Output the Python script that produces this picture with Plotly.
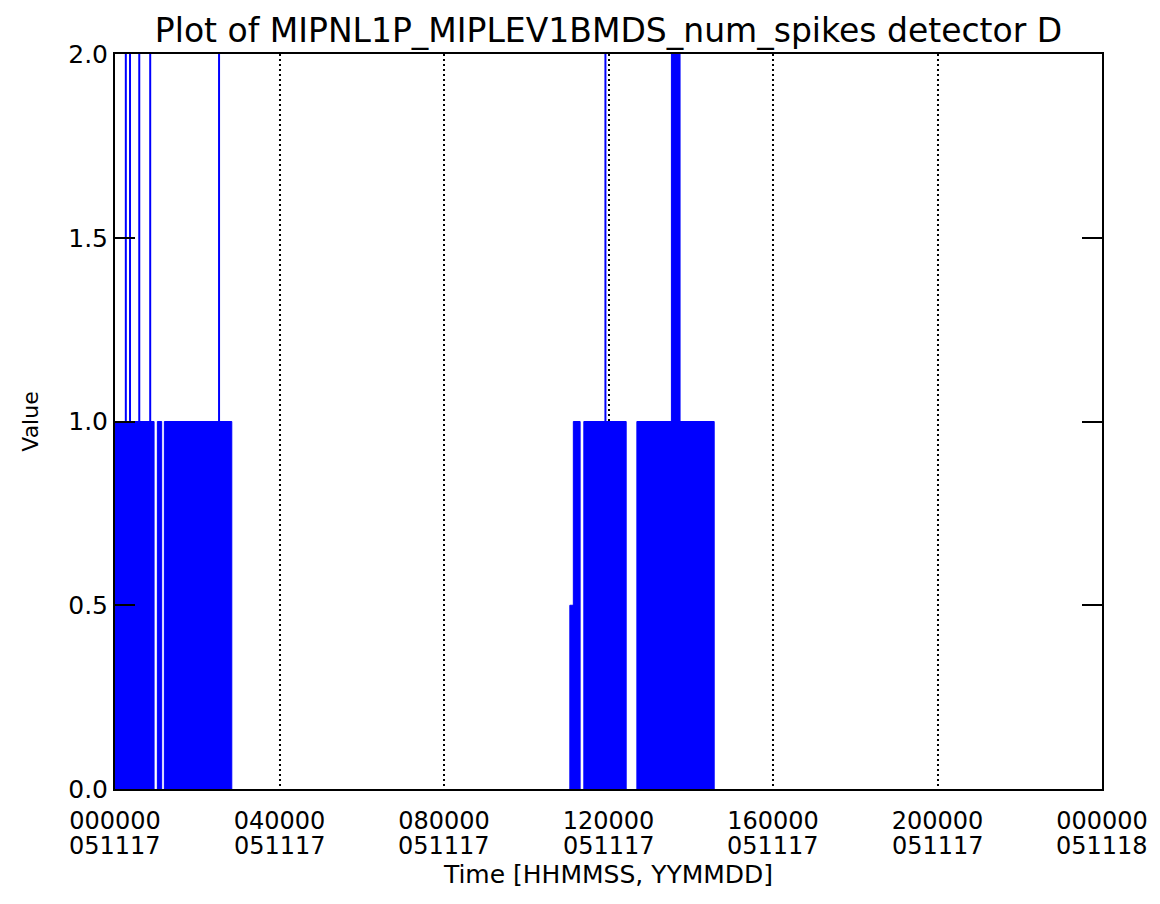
import plotly.graph_objects as go

# ---- data (time in hours since 000000 051117) ----
block_start_h = [0.00, 1.03, 1.20, 11.06, 11.145, 11.40, 12.69, 13.53]
block_end_h = [0.95, 1.135, 2.84, 11.145, 11.31, 12.43, 14.57, 13.74]
block_value = [1.0, 1.0, 1.0, 0.5, 1.0, 1.0, 1.0, 2.0]

spike_time_h = [0.263, 0.365, 0.59, 0.856, 2.53, 11.925]
spike_value = [2.0, 2.0, 2.0, 2.0, 2.0, 2.0]

tick_hours = [0, 4, 8, 12, 16, 20, 24]
tick_hhmmss = ["000000", "040000", "080000", "120000", "160000", "200000", "000000"]
tick_date = ["051117", "051117", "051117", "051117", "051117", "051117", "051118"]

y_ticks = [0.0, 0.5, 1.0, 1.5, 2.0]

BLUE = "#0000ff"
FONT = "DejaVu Sans"

# build block polygons
bx, by = [], []
for s, e, v in zip(block_start_h, block_end_h, block_value):
    bx += [s, s, e, e, s, None]
    by += [0, v, v, 0, 0, None]

sx, sy = [], []
for t, v in zip(spike_time_h, spike_value):
    sx += [t, t, None]
    sy += [0, v, None]

fig = go.Figure()
fig.add_trace(go.Scatter(x=bx, y=by, mode="lines", fill="toself", fillcolor=BLUE,
                         line=dict(color=BLUE, width=1), hoverinfo="skip", showlegend=False))
fig.add_trace(go.Scatter(x=sx, y=sy, mode="lines",
                         line=dict(color=BLUE, width=2), hoverinfo="skip", showlegend=False))

# second line of the x tick labels (date)
for h, d in zip(tick_hours, tick_date):
    fig.add_annotation(x=h, xref="x", y=0, yref="paper", yshift=-57,
                       text=d, showarrow=False, xanchor="center", yanchor="middle",
                       font=dict(family=FONT, size=24, color="black"))

# page body has an 8px default margin -> figure is 8px smaller
fig.update_layout(
    width=1152, height=896,
    margin=dict(l=107, r=58, t=46, b=115),
    paper_bgcolor="white", plot_bgcolor="white",
    font=dict(family=FONT, color="black", size=24),
    title=dict(text="Plot of MIPNL1P_MIPLEV1BMDS_num_spikes detector D",
               x=0.5, xanchor="center", xref="paper", y=1 - 22 / 896, yanchor="middle",
               font=dict(family=FONT, size=33, color="black")),
    showlegend=False,
)
fig.update_xaxes(
    range=[0, 24],
    tickmode="array", tickvals=tick_hours, ticktext=tick_hhmmss,
    tickfont=dict(family=FONT, size=24, color="black"),
    ticks="", ticklabelstandoff=9,
    showgrid=True, gridcolor="black", gridwidth=2, griddash="2px,3px",
    showline=True, linecolor="black", linewidth=2, mirror=True,
    zeroline=False,
    title=dict(text="Time [HHMMSS, YYMMDD]", font=dict(family=FONT, size=25, color="black"), standoff=32),
)
fig.update_yaxes(
    range=[0, 2],
    tickmode="array", tickvals=y_ticks, tickformat=".1f",
    tickfont=dict(family=FONT, size=25, color="black"),
    ticks="inside", ticklen=20, tickwidth=2, tickcolor="black",
    showgrid=False, zeroline=False,
    showline=True, linecolor="black", linewidth=2, mirror="ticks",
    title=dict(text="Value", font=dict(family=FONT, size=22, color="black"), standoff=24),
)

fig.write_html("out.html")
